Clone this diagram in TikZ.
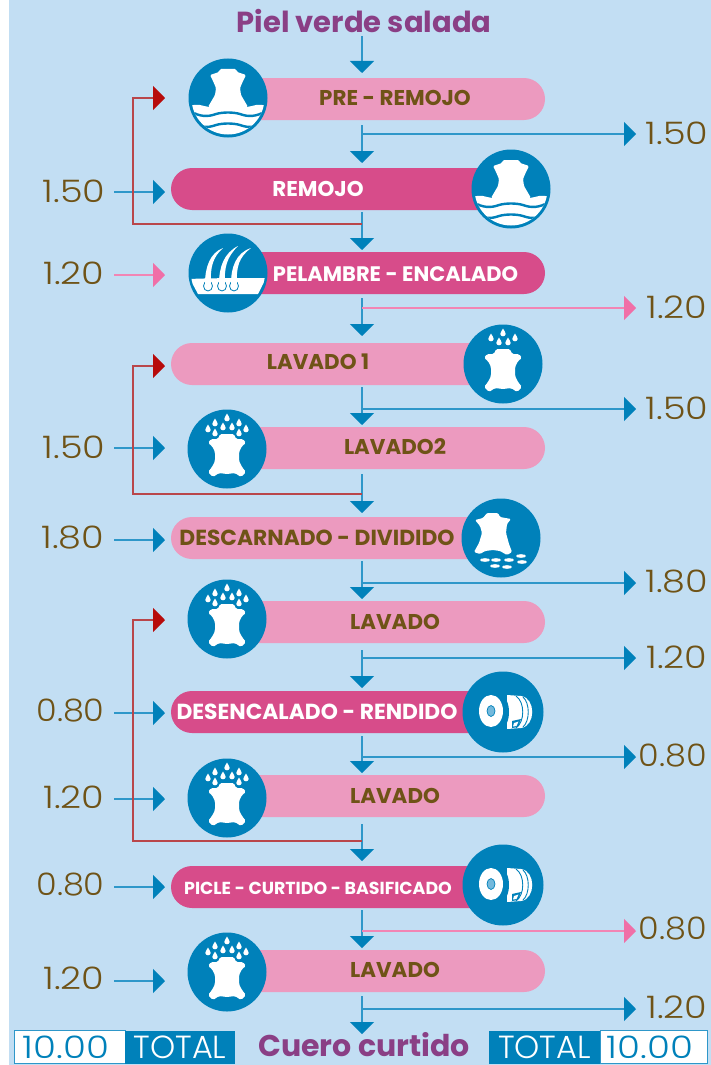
\documentclass[tikz,border=0pt]{standalone}
\usepackage{fontspec}
\usetikzlibrary{shapes.misc,arrows.meta}
\setmainfont{Poppins}
\newfontfamily\numfont[FakeStretch=1.18]{Poppins Light}
\newfontfamily\zerofont[FakeStretch=1.08]{Poppins Light}
\newfontfamily\totnumfont[FakeStretch=1.2]{Poppins Light}
\newfontfamily\totfont{Poppins Light}
\newfontfamily\labfont{Poppins Bold}
\definecolor{bgblue}{HTML}{C2DEF3}
\definecolor{iconblue}{HTML}{0081BA}
\definecolor{linkblue}{HTML}{2E97C9}
\definecolor{lightpink}{HTML}{EC9ABF}
\definecolor{hotpink}{HTML}{D74C8A}
\definecolor{arrowpink}{HTML}{F06FA7}
\definecolor{darkred}{HTML}{B70B0B}
\definecolor{linkred}{HTML}{B9464A}
\definecolor{brownc}{HTML}{6F5317}
\definecolor{purplec}{HTML}{8A3F85}
\tikzset{
 x=1pt,y=-1pt,
 barshape/.style={rounded rectangle,minimum height=42pt,inner sep=0pt,outer sep=0pt},
 barlight/.style={barshape,fill=lightpink},
 barhot/.style={barshape,fill=hotpink},
 lbl/.style={font=\labfont\fontsize{21.4}{21.4}\selectfont,inner sep=0pt},
 lbldark/.style={lbl,text=brownc},
 lblwhite/.style={lbl,text=white},
 num/.style={font=\numfont\fontsize{31}{31}\selectfont,text=brownc,inner sep=0pt},
 numzero/.style={font=\zerofont\fontsize{31}{31}\selectfont,text=brownc,inner sep=0pt},
 headtitle/.style={font=\labfont\fontsize{29}{29}\selectfont,text=purplec,inner sep=0pt},
 circ/.style={circle,fill=iconblue,minimum size=79pt,inner sep=0pt,outer sep=0pt},
 blueflow/.style={draw=linkblue,line width=1.5pt,-{Triangle[length=12pt,width=24pt,color=iconblue]}},
 sidepink/.style={draw=arrowpink!85!white,line width=1.5pt,-{Triangle[length=12pt,width=24pt,color=arrowpink]}},
 recycle/.style={draw=linkred,line width=1.3pt,-{Triangle[length=12pt,width=24pt,color=darkred]}},
 totbox/.style={anchor=west,inner sep=0pt,outer sep=0pt,minimum height=33pt,font=\totfont\fontsize{32}{32}\selectfont},
 totnum/.style={totbox,font=\totnumfont\fontsize{31}{31}\selectfont,fill=white,draw=linkblue,line width=1pt,text=iconblue},
 pics/hidedrops/.style={code={
  \fill[white,rounded corners=1.6pt] (-7,-15)--(7,-15)--(9,-10)--(16,-10)--(19,-6)--(15,-3)--(12,3)--(12,12)--(15,18)--(19,23)--(14,28)--(8,24)--(0,25)--(-8,24)--(-14,28)--(-19,23)--(-15,18)--(-12,12)--(-12,3)--(-15,-3)--(-19,-6)--(-16,-10)--(-9,-10)--cycle;
  \foreach \dx/\dy in {#1}{
   \fill[white,shift={(\dx,\dy)}] (0,-4.5) .. controls (1,-2) and (2.7,-1) .. (2.7,1) .. controls (2.7,4) and (-2.7,4) .. (-2.7,1) .. controls (-2.7,-1) and (-1,-2) .. (0,-4.5)--cycle;}
 }},
 pics/hidewater/.style={code={
  \begin{scope}
   \clip (0,0) circle (36.5);
   \fill[white] (-38,8) .. controls (-30,5) and (-26,8) .. (-19,9) -- (19,9) .. controls (26,8) and (30,5) .. (38,8) -- (38,38) -- (-38,38) -- cycle;
   \draw[iconblue,line width=2.4pt] (-38,13) .. controls (-28,19) and (-20,19) .. (-12,16) .. controls (-5,14) and (5,14) .. (12,16) .. controls (20,19) and (28,19) .. (38,13);
   \draw[iconblue,line width=2.4pt] (-38,24) .. controls (-28,30) and (-20,30) .. (-12,27) .. controls (-5,25) and (5,25) .. (12,27) .. controls (20,30) and (28,30) .. (38,24);
  \end{scope}
  \fill[white,rounded corners=1.2pt] (-8,-29)--(8,-29)--(9,-26)--(18,-23)--(15,-17)--(12,-10)--(13,-3)--(20,9)--(-20,9)--(-13,-3)--(-12,-10)--(-15,-17)--(-18,-23)--(-9,-26)--cycle;
 }},
 pics/hideflakes/.style={code={
  \fill[white,rounded corners=1.2pt] (-14,-25)--(-3,-25)--(-1,-21)--(10,-19)--(6,-14)--(5,-5)--(8,6)--(11,14)--(6,17)--(-1,13)--(-8,12)--(-16,13)--(-21,16)--(-27,14)--(-22,5)--(-19,-5)--(-21,-12)--(-26,-18)--(-18,-20)--cycle;
  \foreach \fx/\fy in {-16/22,-5/22,8/22,21/24,20/18,-6/28,6/29}{
   \fill[white] (\fx,\fy) ellipse (5 and 1.8);}
 }},
 pics/rollicon/.style={code={
  \fill[white] (4,-17) -- (18,-16) .. controls (33,-14) and (33,14) .. (18,16) -- (4,17) -- cycle;
  \draw[iconblue,line width=0.9pt] (13,-16) .. controls (22,-10) and (22,10) .. (13,16);
  \draw[iconblue,line width=0.9pt] (20,-15) .. controls (27,-9) and (27,9) .. (20,15);
  \fill[iconblue] (9,9) -- (18,7) -- (15,15) -- (9,16) -- cycle;
  \fill[white] (11,11) -- (15.5,9.5) -- (13.5,14) -- (10,14.5) -- cycle;
  \fill[iconblue] (-3,-18) .. controls (9,-14) and (9,14) .. (-3,18) -- (-14,18) -- (-14,-18) -- cycle;
  \fill[white] (-12,-1) ellipse (12 and 16);
  \fill[bgblue!60!iconblue,draw=iconblue,line width=0.7pt] (-12,-1) ellipse (4 and 5.5);
 }},
 pics/hairicon/.style={code={
  \begin{scope}
   \clip (0,0) circle (37);
   \fill[white] (-38,6) .. controls (-20,5) and (20,5) .. (38,5) -- (30,21) -- (-30,21) -- cycle;
  \end{scope}
  \foreach \hx/\tx/\ty in {-20/-5/-25,-6/10/-27,6/23/-25}{
   \fill[white,draw=iconblue,line width=0.8pt] (\hx,13) ellipse (4.5 and 5);
   \fill[white] (\hx-3,11) .. controls (\hx-3,-6) and (\hx+2,-20) .. (\tx,\ty) .. controls (\hx+5,-16) and (\hx+2,-6) .. (\hx+3,11) -- cycle;
  }
 }}
}
\begin{document}
\begin{tikzpicture}
\useasboundingbox (0,0) rectangle (711,1065);
\fill[white] (0,0) rectangle (711,1065);
\fill[bgblue] (9,0) rectangle (711,1065);
% bars
\node[barlight,minimum width=317pt] (b1) at (386.5,99) {};
\node[barhot,minimum width=340pt] (b2) at (341,189) {};
\node[barhot,minimum width=317pt] (b3) at (386.5,273) {};
\node[barlight,minimum width=332pt] (b4) at (337,364) {};
\node[barlight,minimum width=317pt] (b5) at (386.5,448) {};
\node[barlight,minimum width=330pt] (b6) at (336,538) {};
\node[barlight,minimum width=317pt] (b7) at (386.5,622) {};
\node[barhot,minimum width=332pt] (b8) at (337,712) {};
\node[barlight,minimum width=317pt] (b9) at (386.5,796) {};
\node[barhot,minimum width=332pt] (b10) at (337,887) {};
\node[barlight,minimum width=317pt] (b11) at (386.5,971) {};
% circles
\node[circ] (c1) at (228,98) {};
\node[circ] (c2) at (511,189) {};
\node[circ] (c3) at (228,273) {};
\node[circ] (c4) at (503,364) {};
\node[circ] (c5) at (227,449) {};
\node[circ] (c6) at (501,538) {};
\node[circ] (c7) at (227,619) {};
\node[circ,minimum size=81pt] (c8) at (503,712) {};
\node[circ] (c9) at (227,798) {};
\node[circ,minimum size=81pt] (c10) at (503,885) {};
\node[circ] (c11) at (227,972) {};
\pic at (c1) {hidewater};
\pic at (c2) {hidewater};
\pic at (c3) {hairicon};
\pic at (c4) {hidedrops={0/-31,-12/-26,12/-26,-4/-22,5/-22}};
\pic at (c5) {hidedrops={0/-31,-12/-26,12/-26,-4/-22,5/-22,-19/-20,19/-20,-12/-16,12/-16}};
\pic at (c6) {hideflakes};
\pic at (c7) {hidedrops={0/-31,-12/-26,12/-26,-4/-22,5/-22,-19/-20,19/-20,-12/-16,12/-16}};
\pic at (c8) {rollicon};
\pic at (c9) {hidedrops={0/-31,-12/-26,12/-26,-4/-22,5/-22,-19/-20,19/-20,-12/-16,12/-16}};
\pic at (c10) {rollicon};
\pic at (c11) {hidedrops={0/-31,-12/-26,12/-26,-4/-22,5/-22,-19/-20,19/-20,-12/-16,12/-16}};
% labels
\node[lbldark] (t1) at (395,98) {PRE - REMOJO};
\node[lblwhite] (t2) at (318,189) {REMOJO};
\node[lblwhite,font=\labfont\fontsize{21}{21}\selectfont] (t3) at (395.5,274) {PELAMBRE - ENCALADO};
\node[lbldark] (t4) at (318,362) {LAVADO 1};
\node[lbldark] (t5) at (395,447) {LAVADO2};
\node[lbldark,font=\labfont\fontsize{21.8}{21.8}\selectfont] (t6) at (317,538) {DESCARNADO - DIVIDIDO};
\node[lbldark] (t7) at (395,622) {LAVADO};
\node[lblwhite,font=\labfont\fontsize{21.8}{21.8}\selectfont] (t8) at (317,712) {DESENCALADO - RENDIDO};
\node[lbldark] (t9) at (395,796) {LAVADO};
\node[lblwhite,font=\labfont\fontsize{17.4}{17.4}\selectfont] (t10) at (318,888) {PICLE - CURTIDO - BASIFICADO};
\node[lbldark] (t11) at (395,970) {LAVADO};
\node[headtitle] (top) at (364,21) {Piel verde salada};
\node[headtitle,font=\labfont\fontsize{30}{30}\selectfont] (bot) at (364,1045) {Cuero curtido};
% left numbers
\node[num] (l2) at (74,191) {1.50};
\node[num] (l3) at (74,273) {1.20};
\node[num] (l5) at (74,447) {1.50};
\node[num] (l6) at (73,538) {1.80};
\node[numzero] (l8) at (70.5,711) {0.80};
\node[num] (l9) at (74,797) {1.20};
\node[numzero] (l10) at (70.5,885) {0.80};
\node[num] (l11) at (74,978) {1.20};
% right numbers
\node[num] (r1) at (677,133) {1.50};
\node[num] (r3) at (677,307) {1.20};
\node[num] (r4) at (677,408) {1.50};
\node[num] (r6) at (677,582) {1.80};
\node[num] (r7) at (677,657) {1.20};
\node[numzero] (r8) at (673,756) {0.80};
\node[numzero] (r10) at (673,929) {0.80};
\node[num] (r11) at (677,1007) {1.20};
% totals
\node[totnum,minimum width=111pt] (tl) at (14.5,1047) {\hspace{-8pt}10.00};
\node[totbox,fill=iconblue,minimum width=110pt,text=white] (tlb) at (125,1047) {TOTAL};
\node[totbox,fill=iconblue,minimum width=111pt,text=white] (trb) at (489,1047) {TOTAL};
\node[totnum,minimum width=107pt] (tr) at (600,1047) {\hspace{-7pt}10.00};
% main stems
\foreach \ya/\yb/\nm in {36/73/s0,125/163/s1,212/250/s2,298/336/s3,387/425/s4,474/513/s5,561/599/s6,650/688/s7,736/773/s8,824/861/s9,910/948/s10,996/1034/s11}{
 \coordinate (\nm a) at (362,\ya);
 \coordinate (\nm b) at (362,\yb);
 \draw[blueflow] (\nm a) -- (\nm b);
}
% outgoing branches
\foreach \y/\nm/\sty in {134/o1/blueflow,308/o3/sidepink,409/o4/blueflow,583/o6/blueflow,658/o7/blueflow,757/o8/blueflow,931/o10/sidepink,1009/o11/blueflow}{
 \coordinate (\nm a) at (362,\y);
 \coordinate (\nm b) at (636,\y);
 \draw[\sty] (\nm a) -- (\nm b);
}
% incoming branches
\foreach \y/\nm/\sty in {192/i2/blueflow,275/i3/sidepink,448/i5/blueflow,540/i6/blueflow,713/i8/blueflow,799/i9/blueflow,887/i10/blueflow,981/i11/blueflow}{
 \coordinate (\nm a) at (114,\y);
 \coordinate (\nm b) at (165,\y);
 \draw[\sty] (\nm a) -- (\nm b);
}
% recycling loops
\foreach \ya/\yb/\nm in {224/98/r1,494/366/r2,841/620/r3}{
 \coordinate (\nm a) at (362,\ya);
 \coordinate (\nm b) at (165,\yb);
 \draw[recycle] (\nm a) -- (133,\ya) -- (133,\yb) -- (\nm b);
}
\end{tikzpicture}
\end{document}
